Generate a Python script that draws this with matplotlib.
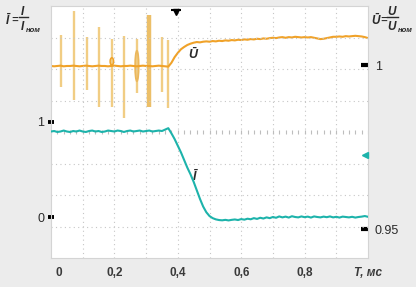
import matplotlib
matplotlib.use("Agg")
import matplotlib.pyplot as plt
from matplotlib.lines import Line2D
from matplotlib.patches import Ellipse
from matplotlib.transforms import ScaledTranslation
import numpy as np

# ---------------- data ----------------
t = [round(i * 0.01, 2) for i in range(101)]  # time, ms

current = [0.90, 0.905, 0.895, 0.90, 0.91, 0.90, 0.895, 0.905, 0.90, 0.91,
           0.90, 0.895, 0.905, 0.91, 0.90, 0.905, 0.895, 0.90, 0.91, 0.905,
           0.90, 0.91, 0.905, 0.895, 0.905, 0.91, 0.90, 0.905, 0.91, 0.90,
           0.905, 0.91, 0.90, 0.905, 0.91, 0.905, 0.92, 0.935, 0.88, 0.82,
           0.75, 0.68, 0.60, 0.52, 0.45, 0.37, 0.28, 0.19, 0.11, 0.05,
           0.01, -0.012, -0.025, -0.032, -0.035, -0.03, -0.036, -0.03, -0.026, -0.032,
           -0.022, -0.028, -0.018, -0.024, -0.012, -0.02, -0.008, -0.016, -0.004, -0.012,
           0.0, -0.008, 0.006, -0.004, 0.004, -0.006, 0.008, 0.0, -0.004, 0.006,
           -0.002, 0.004, -0.006, 0.006, 0.0, -0.004, 0.004, -0.002, 0.006, -0.004,
           0.002, -0.006, 0.004, 0.0, -0.004, 0.002, -0.006, 0.0, 0.004, 0.01, 0.002]

voltage = [0.9997, 0.9996, 0.9997, 0.9998, 0.9996, 0.9997, 0.9997, 0.9998, 0.9997, 0.9996,
           0.9997, 0.9998, 0.9997, 0.9996, 0.9997, 0.9998, 0.9997, 0.9997, 0.9996, 0.9997,
           0.9998, 0.9997, 0.9996, 0.9997, 0.9997, 0.9998, 0.9997, 0.9996, 0.9997, 0.9998,
           0.9997, 0.9997, 0.9996, 0.9997, 0.9998, 0.9997, 0.9996, 0.9995, 1.0007, 1.0024,
           1.0037, 1.0048, 1.0055, 1.0061, 1.0065, 1.0068, 1.0070, 1.0069, 1.0071, 1.0072,
           1.0071, 1.0073, 1.0072, 1.0074, 1.0073, 1.0075, 1.0074, 1.0076, 1.0075, 1.0077,
           1.0076, 1.0078, 1.0077, 1.0079, 1.0078, 1.0080, 1.0079, 1.0081, 1.0080, 1.0082,
           1.0083, 1.0082, 1.0084, 1.0085, 1.0083, 1.0085, 1.0084, 1.0086, 1.0085, 1.0084,
           1.0085, 1.0084, 1.0085, 1.0083, 1.0081, 1.0079, 1.0080, 1.0082, 1.0084, 1.0086,
           1.0086, 1.0087, 1.0086, 1.0088, 1.0087, 1.0088, 1.0089, 1.0088, 1.0087, 1.0085, 1.0082]

# voltage spikes (switching transients)
spike_t = [0.032, 0.073, 0.114, 0.151, 0.192, 0.230, 0.271, 0.309, 0.350, 0.369]
spike_hi = [1.0091, 1.0164, 1.0085, 1.0115, 1.0079, 1.0088, 1.0079, 1.0152, 1.0085, 1.0076]
spike_lo = [0.9933, 0.9894, 0.9924, 0.9873, 0.9873, 0.9839, 0.9915, 0.9873, 0.9918, 0.9870]

x_ticks = [0, 0.2, 0.4, 0.6, 0.8, 1.0]
x_ticklabels = ["0", "0,2", "0,4", "0,6", "0,8", "T, мс"]
i_ticks = [0, 1]
i_ticklabels = ["0", "1"]
u_ticks = [1.0, 0.95]
u_ticklabels = ["1", "0.95"]

# ---------------- style ----------------
W, H = 416, 287
BG = "#ececec"
C_I = "#1db3ab"
C_U = "#f0a229"
C_SPIKE = "#f0c877"
GRID = "#c6c6c6"
TXT = "#2a2a2a"
FONT = ["Liberation Sans", "DejaVu Sans"]
plt.rcParams["font.family"] = FONT

fig = plt.figure(figsize=(W / 100, H / 100), dpi=100, facecolor=BG)
L, R, T, B = 51, 368, 6, 258
ax = fig.add_axes([L / W, 1 - B / H, (R - L) / W, (B - T) / H])

ax.set_xlim(0, 1.0)
ax.set_ylim((217 - B) / 95, (217 - T) / 95)
ax2 = ax.twinx()
ax2.set_ylim(1 + (65 - B) / 3280, 1 + (65 - T) / 3280)

# grid (oscilloscope divisions)
for k in range(1, 10):
    ax.plot([k / 10, k / 10], [0, 1], transform=ax.transAxes, color=GRID,
            lw=0.8, ls=(0, (1, 3)), zorder=0)
for k in range(1, 8):
    if k == 4:
        continue
    ax.plot([0, 1], [k / 8, k / 8], transform=ax.transAxes, color=GRID,
            lw=0.8, ls=(0, (1, 3)), zorder=0)
# centre line with fine ticks
cx = np.arange(0.0, 1.0001, 0.02)
ax.plot(cx, np.full_like(cx, 0.5), transform=ax.transAxes, ls="none",
        marker="|", ms=3, mew=0.8, color="#bdbdbd", zorder=0)

for s in ax.spines.values():
    s.set_color("#d4d4d4")
    s.set_linewidth(0.8)
for s in ax2.spines.values():
    s.set_visible(False)

# traces
ax2.vlines(spike_t, spike_lo, spike_hi, color=C_SPIKE, lw=1.7, alpha=0.9, zorder=2)
ax2.vlines([spike_t[7]], [spike_lo[7]], [spike_hi[7]], color="#ecbf68", lw=3.2, zorder=2)
ax2.add_patch(Ellipse((spike_t[4], 1.0011), 0.011, 0.0022, fill=False,
                      edgecolor=C_U, lw=1.1, zorder=3))
ax2.add_patch(Ellipse((spike_t[6], 0.9997), 0.011, 0.0092, fill=False,
                      edgecolor="#ebb75c", lw=1.3, zorder=3))
ax2.plot(t, voltage, color=C_U, lw=1.5, zorder=4)
ax.plot(t, current, color=C_I, lw=1.5, zorder=4)
ax.set_zorder(ax2.get_zorder() + 1)
ax.patch.set_visible(False)
ax2.patch.set_visible(True)
ax2.patch.set_facecolor("white")

# ticks
ax.set_xticks(x_ticks)
ax.set_xticklabels(x_ticklabels)
ax.tick_params(axis="x", length=0, pad=6.5, labelsize=8.5, labelcolor="#3a3a3a")
for lab in ax.get_xticklabels():
    lab.set_fontweight("bold")
xl = ax.get_xticklabels()
xl[0].set_transform(xl[0].get_transform() + ScaledTranslation(8 / 100, 0, fig.dpi_scale_trans))
xl[-1].set_fontstyle("italic")

ax.set_yticks(i_ticks)
ax.set_yticklabels(i_ticklabels)
ax.tick_params(axis="y", direction="inout", length=4, width=2.8, color="black",
               pad=3, labelsize=9, labelcolor=TXT)
ax2.set_yticks(u_ticks)
ax2.set_yticklabels(u_ticklabels)
ax2.tick_params(axis="y", direction="in", length=5, width=3, color="black",
                pad=5, labelsize=9, labelcolor=TXT)

# in-plot labels
bi = dict(fontweight="bold", fontstyle="italic", color=TXT)
ax2.text(0.448, 1.0029, "Ū", fontsize=9, ha="center", va="center", **bi)
ax.text(0.452, 0.42, "Ī", fontsize=9, ha="center", va="center", **bi)

# markers: trigger and channel reference
ax.plot([0.394], [0.978], transform=ax.transAxes, marker="v", ms=5, color="black", clip_on=False)
ax.plot([0.394], [0.985], transform=ax.transAxes, marker="_", ms=7, mew=1.5, color="black", clip_on=False)
ax.plot([0.99], [(258 - 155) / 252], transform=ax.transAxes, marker="<", ms=5,
        color=C_I, clip_on=False, zorder=6)


def fx(px):
    return px / W


def fy(py):
    return 1 - py / H


# axis titles (fraction style), positioned by baseline
def frac_label(x_sym, x_eq, x_num, x_bar0, x_bar1, x_sub, sym, letter):
    fig.text(fx(x_sym), fy(24.5), sym, fontsize=8.5, ha="center", va="baseline", **bi)
    fig.text(fx(x_eq), fy(23), "=", fontsize=8, ha="center", va="baseline", **bi)
    fig.text(fx(x_num), fy(15), letter, fontsize=8.5, ha="center", va="baseline", **bi)
    fig.add_artist(Line2D([fx(x_bar0), fx(x_bar1)], [fy(17.3), fy(17.3)],
                          color=TXT, lw=1.0))
    fig.text(fx(x_num), fy(29.5), letter, fontsize=8.5, ha="center", va="baseline", **bi)
    fig.text(fx(x_sub), fy(32), "ном", fontsize=5.5, ha="left", va="baseline", **bi)


frac_label(7, 14.5, 22.5, 18.5, 27.5, 25.5, "Ī", "I")
frac_label(375.5, 384, 392, 387, 398, 398, "Ū", "U")

fig.savefig("out.png", dpi=100, facecolor=BG)
